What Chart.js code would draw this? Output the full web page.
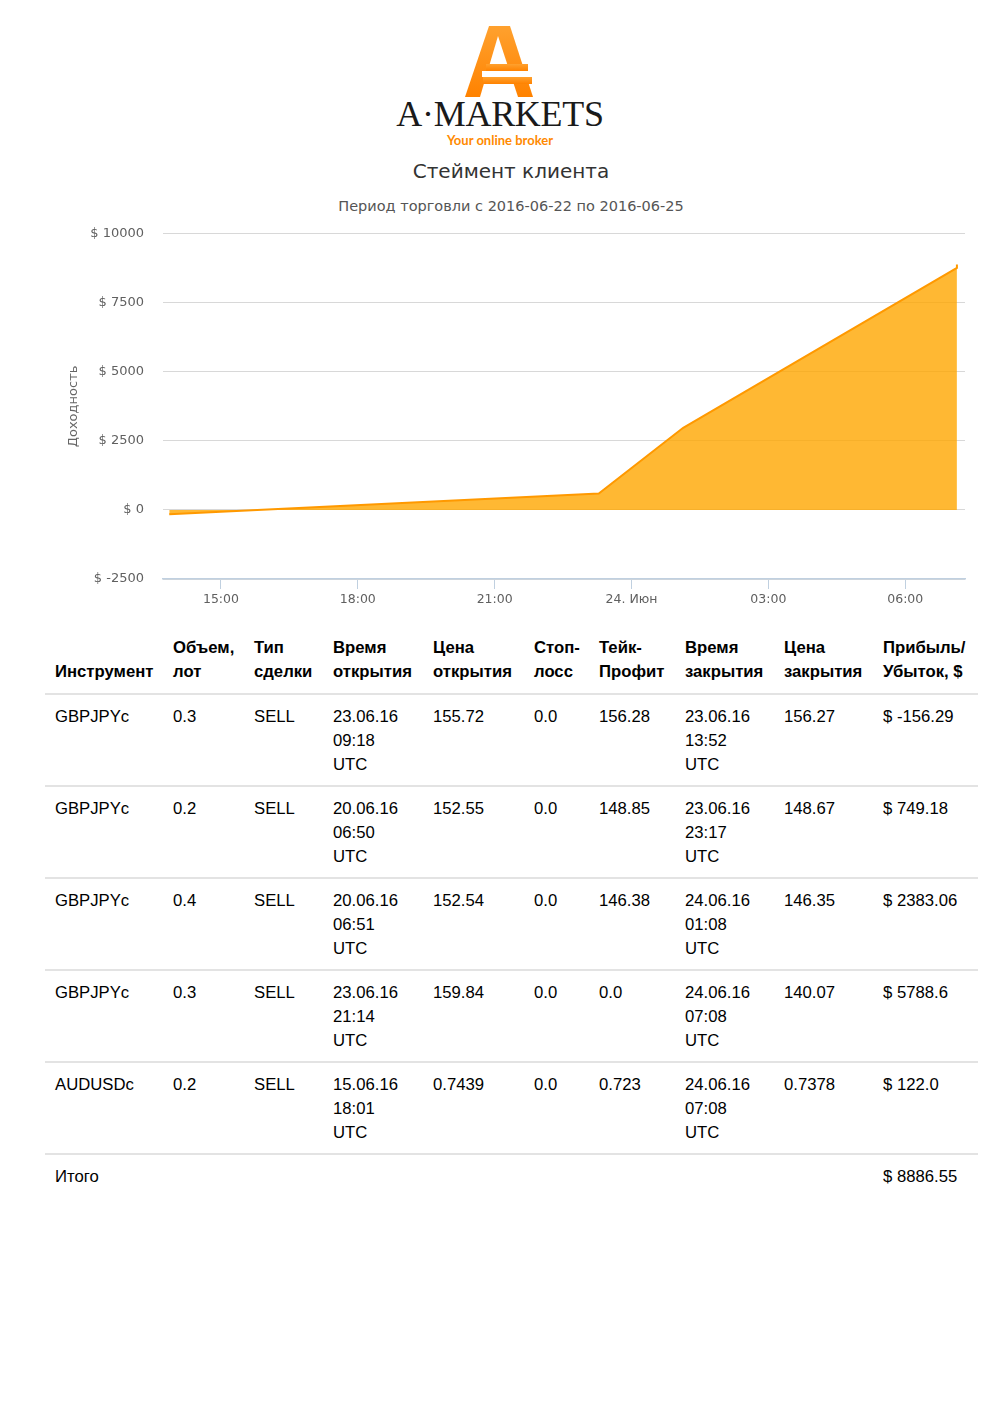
<!DOCTYPE html>
<html>
<head>
<meta charset="utf-8">
<script src="https://cdn.jsdelivr.net/npm/chart.js@4/dist/chart.umd.min.js"></script>
<style>
  html, body { margin: 0; padding: 0; background: #fff; }
  body { width: 1000px; height: 1415px; position: relative; overflow: hidden; }
  #logo { position: absolute; left: 0; top: 0; width: 1000px; height: 100px; }
  #brand { position: absolute; left: 0; width: 1000px; top: 96px; text-align: center;
    font-family: "Liberation Serif", "DejaVu Serif", serif; font-size: 36px; line-height: 36px;
    color: #1a1a1a; letter-spacing: -0.3px; }
  #tag { position: absolute; left: 0; width: 1000px; top: 132px; text-align: center;
    font-family: Lato, "Open Sans", sans-serif; font-weight: bold; font-size: 13px; line-height: 16px; color: #FF8A00; }
  #title { position: absolute; left: 11px; width: 1000px; top: 159px; text-align: center;
    font-family: "DejaVu Sans", sans-serif; font-size: 20px; line-height: 24px; color: #333; }
  #subtitle { position: absolute; left: 11px; width: 1000px; top: 198px; text-align: center;
    font-family: "DejaVu Sans", sans-serif; font-size: 14.5px; line-height: 17px; color: #555; }
  #chart { position: absolute; left: 0; top: 207px; }
  table { position: absolute; left: 45px; top: 626px; width: 933px; border-collapse: collapse; table-layout: fixed;
    font-family: "Liberation Sans", Arial, sans-serif; font-size: 16.7px; line-height: 24px; color: #000; }
  th { text-align: left; vertical-align: bottom; font-weight: bold; padding: 10px 0 9px 10px; white-space: nowrap; }
  td { text-align: left; vertical-align: top; padding: 10px 0 8px 10px; border-top: 2px solid #e3e3e3; white-space: nowrap; }
  tr.total td { padding-top: 10px; }
</style>
</head>
<body>
<svg id="logo" width="1000" height="100" viewBox="0 0 1000 100">
  <defs>
    <linearGradient id="og" x1="0" y1="0" x2="0" y2="1">
      <stop offset="0" stop-color="#FFA12E"/>
      <stop offset="1" stop-color="#FF8200"/>
    </linearGradient>
  </defs>
  <polygon points="489,26 510,26 533,97 465,97" fill="url(#og)"/>
  <polygon points="498,36 480,97 518,97" fill="#fff"/>
  <rect x="482" y="71" width="58" height="6" fill="#fff"/>
  <rect x="486" y="64" width="42" height="7" fill="url(#og)"/>
  <rect x="483" y="77" width="49" height="7" fill="url(#og)"/>
</svg>
<div id="brand">A·MARKETS</div>
<div id="tag">Your online broker</div>
<div id="title">Стеймент клиента</div>
<div id="subtitle">Период торговли с 2016-06-22 по 2016-06-25</div>
<canvas id="chart" width="1000" height="408"></canvas>
<table id="deals">
  <colgroup>
    <col style="width:118px"><col style="width:81px"><col style="width:79px"><col style="width:100px"><col style="width:101px">
    <col style="width:65px"><col style="width:86px"><col style="width:99px"><col style="width:99px"><col style="width:105px">
  </colgroup>
  <thead><tr id="head"></tr></thead>
  <tbody id="body"></tbody>
</table>
<script>
// Chart data: cumulative profit at each close time (hours from 2016-06-23 00:00 UTC)
const closeHours = [13.867, 23.283, 25.133, 31.133, 31.133];
const equity = [-156.29, 592.89, 2975.95, 8764.55, 8886.55];
const xTickHours = [15, 18, 21, 24, 27, 30];
const xTickLabels = ['15:00', '18:00', '21:00', '24. Июн', '03:00', '06:00'];
const yTicks = [-2500, 0, 2500, 5000, 7500, 10000];

// Table data
const headers = ['Инструмент', 'Объем,<br>лот', 'Тип<br>сделки', 'Время<br>открытия', 'Цена<br>открытия',
  'Стоп-<br>лосс', 'Тейк-<br>Профит', 'Время<br>закрытия', 'Цена<br>закрытия', 'Прибыль/<br>Убыток, $'];
const instruments = ['GBPJPYc', 'GBPJPYc', 'GBPJPYc', 'GBPJPYc', 'AUDUSDc'];
const volumes = ['0.3', '0.2', '0.4', '0.3', '0.2'];
const dealTypes = ['SELL', 'SELL', 'SELL', 'SELL', 'SELL'];
const openTimes = ['23.06.16<br>09:18<br>UTC', '20.06.16<br>06:50<br>UTC', '20.06.16<br>06:51<br>UTC', '23.06.16<br>21:14<br>UTC', '15.06.16<br>18:01<br>UTC'];
const openPrices = ['155.72', '152.55', '152.54', '159.84', '0.7439'];
const stopLoss = ['0.0', '0.0', '0.0', '0.0', '0.0'];
const takeProfit = ['156.28', '148.85', '146.38', '0.0', '0.723'];
const closeTimes = ['23.06.16<br>13:52<br>UTC', '23.06.16<br>23:17<br>UTC', '24.06.16<br>01:08<br>UTC', '24.06.16<br>07:08<br>UTC', '24.06.16<br>07:08<br>UTC'];
const closePrices = ['156.27', '148.67', '146.35', '140.07', '0.7378'];
const profits = ['$ -156.29', '$ 749.18', '$ 2383.06', '$ 5788.6', '$ 122.0'];
const totalLabel = 'Итого';
const totalValue = '$ 8886.55';

document.getElementById('head').innerHTML = headers.map(h => '<th>' + h + '</th>').join('');
let rows = '';
for (let i = 0; i < instruments.length; i++) {
  const cells = [instruments[i], volumes[i], dealTypes[i], openTimes[i], openPrices[i], stopLoss[i],
    takeProfit[i], closeTimes[i], closePrices[i], profits[i]];
  rows += '<tr>' + cells.map(c => '<td>' + c + '</td>').join('') + '</tr>';
}
rows += '<tr class="total"><td>' + totalLabel + '</td>' + '<td></td>'.repeat(8) + '<td>' + totalValue + '</td></tr>';
document.getElementById('body').innerHTML = rows;

const tickFont = { family: 'DejaVu Sans', size: 12.5 };
new Chart(document.getElementById('chart'), {
  type: 'line',
  data: {
    datasets: [{
      data: closeHours.map((x, i) => ({ x: x, y: equity[i] })),
      borderColor: '#FF9900',
      backgroundColor: 'rgba(255,166,0,0.8)',
      borderWidth: 2,
      fill: 'origin',
      pointRadius: 0,
      tension: 0
    }]
  },
  options: {
    responsive: false,
    animation: false,
    layout: { padding: { left: 62, right: 35, top: 13, bottom: 0 } },
    plugins: { legend: { display: false }, tooltip: { enabled: false } },
    scales: {
      x: {
        type: 'linear',
        min: 13.73,
        max: 31.31,
        afterBuildTicks: s => { s.ticks = xTickHours.map(v => ({ value: v })); },
        afterFit: s => { s.height = 36; },
        ticks: {
          callback: v => xTickLabels[xTickHours.indexOf(v)],
          font: tickFont, color: '#606060', padding: 3, maxRotation: 0, autoSkip: false
        },
        grid: { drawOnChartArea: false, color: '#C0D0E0', tickLength: 10 },
        border: { color: '#C0D0E0', width: 1.5 }
      },
      y: {
        min: -2500,
        max: 10000,
        afterBuildTicks: s => { s.ticks = yTicks.map(v => ({ value: v })); },
        afterFit: s => { s.width = 101; },
        ticks: { callback: v => '$ ' + v, font: { family: 'DejaVu Sans', size: 13 }, color: '#606060', padding: 19 },
        grid: { color: '#D8D8D8', drawTicks: false },
        border: { display: false },
        title: { display: true, text: 'Доходность', color: '#666', font: { family: 'DejaVu Sans', size: 13 } }
      }
    }
  }
});
</script>
</body>
</html>
